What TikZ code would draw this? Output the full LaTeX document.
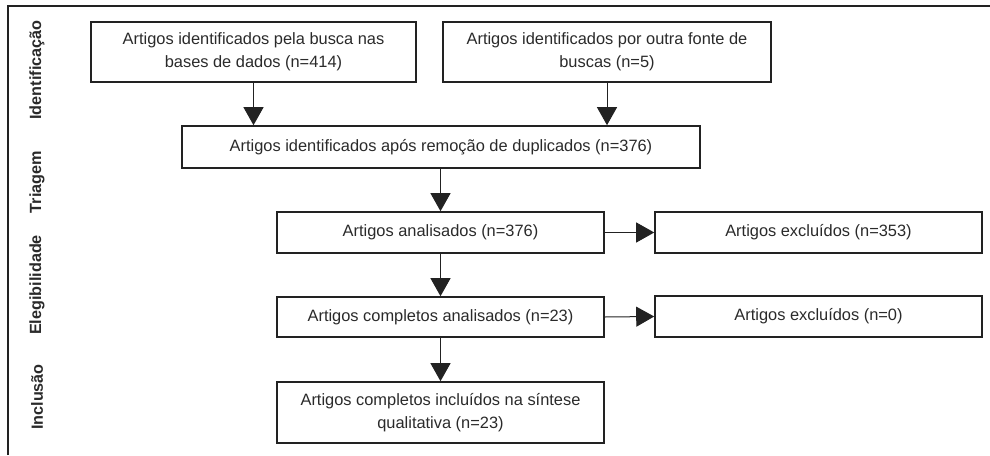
\documentclass[tikz,border=0pt]{standalone}
\usepackage{fontspec}
\setmainfont{Liberation Sans}
\usetikzlibrary{arrows.meta}
\definecolor{ink}{HTML}{222222}
\definecolor{txt}{HTML}{2a2a2a}
\tikzset{
  box/.style={draw=ink, line width=1.6pt, rectangle, inner sep=0pt, align=center,
    text=txt, font=\fontsize{16.4}{22.5}\selectfont},
  conn/.style={draw=ink, line width=1pt, -{Triangle[length=18pt,width=20pt]}},
  phase/.style={rotate=90, text=txt, font=\fontsize{16.2}{18}\selectfont\bfseries}
}
\begin{document}
\begin{tikzpicture}[x=1pt,y=-1pt]
\useasboundingbox (0,0) rectangle (990,455);
\draw[ink, line width=1.2pt] (8,455) -- (8,6) -- (990,6);

\node[phase] (p1) at (37,70) {Identificação};
\node[phase] (p2) at (37,182) {Triagem};
\node[phase] (p3) at (37,285) {Elegibilidade};
\node[phase] (p4) at (37,397) {Inclusão};

\node[box, minimum width=325pt, minimum height=60pt] (b1) at (253.5,52)
  {Artigos identificados pela busca nas\\bases de dados (n=414)};
\node[box, minimum width=328pt, minimum height=60pt] (b2) at (607,52)
  {Artigos identificados por outra fonte de\\buscas (n=5)};
\node[box, minimum width=518pt, minimum height=42pt] (b3) at (441,147)
  {Artigos identificados após remoção de duplicados (n=376)};
\node[box, minimum width=327pt, minimum height=41pt] (b4) at (440.5,232.5)
  {Artigos analisados (n=376)};
\node[box, minimum width=327pt, minimum height=41pt] (e1) at (818.5,232.5)
  {Artigos excluídos (n=353)};
\node[box, minimum width=327pt, minimum height=40pt] (b5) at (440.5,317)
  {Artigos completos analisados (n=23)};
\node[box, minimum width=327pt, minimum height=41pt] (e2) at (818.5,316.5)
  {Artigos excluídos (n=0)};
\node[box, minimum width=327pt, minimum height=61pt] (b6) at (440.5,412.5)
  {Artigos completos incluídos na síntese\\qualitativa (n=23)};

\draw[conn] (b1.south) -- (b1.south |- b3.north);
\draw[conn] (b2.south) -- (b2.south |- b3.north);
\draw[conn] (b3.south -| b4.north) -- (b4.north);
\draw[conn] (b4.south) -- (b5.north);
\draw[conn] (b5.south) -- (b6.north);
\draw[conn] (b4.east) -- (e1.west);
\draw[conn] (b5.east) -- (e2.west);
\end{tikzpicture}
\end{document}
